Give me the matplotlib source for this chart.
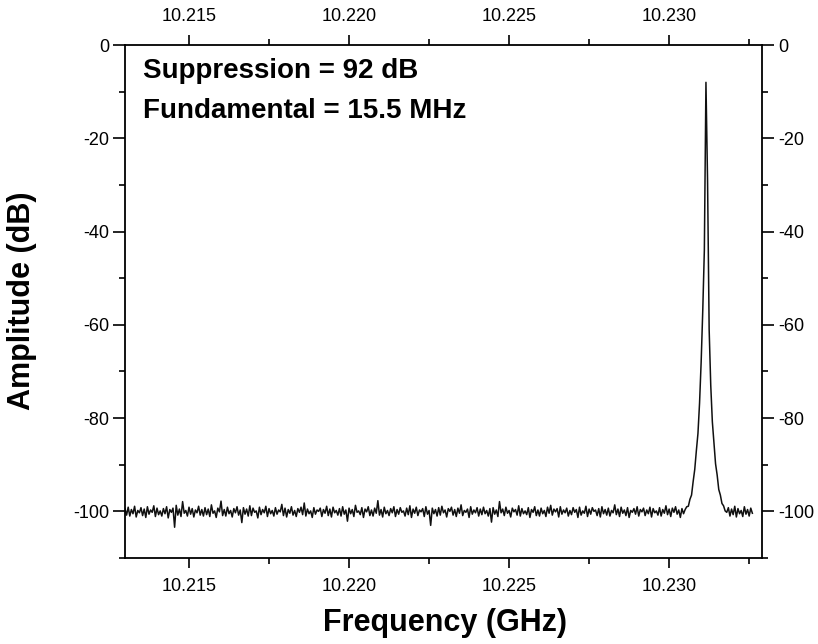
import numpy as np
import matplotlib
matplotlib.use("Agg")
import matplotlib.pyplot as plt
from matplotlib.ticker import MultipleLocator, FormatStrFormatter

plt.rcParams["font.family"] = ["Liberation Sans", "DejaVu Sans"]
plt.rcParams["axes.unicode_minus"] = False

# sweep grid (GHz)
f_start = 10.2130
f_step = 0.00005

# noise floor left of the carrier (dB)
floor_left = [
    -99.4, -100.8, -99.1, -101.0, -99.6, -100.5, -98.9, -101.2, -99.8, -100.3, -99.2, -100.9, -99.5, -101.3, -99.0, -100.6, -99.7, -100.2, -98.8, -101.1, -99.3, -100.7, -99.9, -101.0, -99.4,
    -100.5, -99.0, -101.4, -99.6, -100.2, -99.3, -103.4, -98.7, -100.8, -99.5, -101.1, -97.9, -100.4, -99.8, -101.0, -99.1, -100.6, -99.4, -101.2, -99.7, -100.3, -98.9, -100.8, -99.6, -101.0,
    -99.2, -100.7, -99.5, -101.1, -98.6, -100.4, -99.9, -101.3, -99.3, -100.1, -97.8, -100.9, -99.6, -101.0, -99.1, -100.5, -99.8, -101.2, -99.4, -100.3, -99.0, -100.8, -99.7, -102.4, -99.2,
    -100.6, -99.5, -101.0, -98.8, -100.9, -99.3, -100.2, -99.9, -101.4, -99.1, -100.7, -99.6, -100.3, -98.9, -101.1, -99.4, -100.5, -99.8, -101.0, -99.2, -100.6, -99.7, -100.1, -98.5, -100.9,
    -99.3, -101.2, -99.6, -100.4, -99.0, -100.8, -99.8, -101.1, -99.4, -100.2, -99.1, -100.7, -98.2, -101.0, -99.5, -100.5, -99.9, -101.3, -99.2, -100.6, -99.7, -100.0, -99.3, -101.1, -99.6,
    -100.4, -98.9, -100.9, -99.5, -101.2, -99.1, -100.3, -99.8, -100.8, -99.4, -101.0, -99.0, -100.6, -99.7, -102.1, -99.3, -100.5, -99.6, -101.1, -98.7, -100.2, -99.9, -100.7, -99.2, -101.3,
    -99.5, -100.1, -99.0, -100.9, -99.7, -101.0, -99.3, -100.4, -97.7, -100.8, -99.6, -101.2, -99.1, -100.5, -99.8, -100.9, -99.4, -100.3, -99.0, -101.1, -99.6, -100.6, -99.2, -100.2, -99.9,
    -101.0, -99.3, -100.7, -98.8, -101.3, -99.5, -100.4, -99.1, -100.9, -99.7, -100.1, -99.4, -101.1, -99.0, -100.6, -99.8, -103.0, -99.3, -100.5, -99.6, -101.0, -99.2, -100.8, -98.9, -100.3,
    -99.7, -101.2, -99.4, -100.0, -99.1, -100.8, -99.6, -101.1, -99.3, -100.4, -98.6, -100.9, -99.8, -100.2, -99.5, -101.3, -99.0, -100.6, -99.7, -100.3, -99.2, -101.0, -99.5, -100.7, -99.1,
    -100.5, -99.8, -101.0, -99.4, -102.3, -99.2, -100.6, -99.7, -101.1, -97.9, -100.3, -99.5, -100.9, -99.1, -100.4, -99.8, -101.2, -99.3, -100.1, -99.6, -100.8, -98.8, -101.0, -99.4, -100.5,
    -99.9, -100.7, -99.2, -101.3, -99.6, -100.2, -99.0, -100.9, -99.7, -101.0, -99.3, -100.5, -99.8, -101.1, -99.1, -100.4, -98.7, -100.8, -99.5, -100.1, -99.4, -101.2, -99.0, -100.6, -99.7,
    -100.3, -99.3, -101.0, -99.8, -100.7, -99.2, -100.2, -99.6, -101.3, -99.1, -100.8, -99.9, -100.4, -98.9, -101.1, -99.5, -100.6, -99.2, -100.0, -99.7, -100.9, -99.4, -101.2, -99.0, -100.5,
    -99.6, -100.8, -99.3, -101.0, -99.8, -100.3, -98.6, -100.7, -99.5, -101.1, -99.1, -100.4, -99.7, -100.9, -99.2, -101.3, -99.8, -100.2, -99.4, -100.6, -99.0, -101.0, -99.6, -100.1, -99.3,
    -100.9, -99.7, -100.5, -99.1, -101.2, -99.4, -100.3, -99.9, -100.8, -99.2, -101.0, -99.6, -100.4, -98.8, -100.7, -99.5, -101.1, -99.3, -100.2, -99.0, -100.6, -99.7, -101.3, -99.4, -100.5,
]

# carrier at ~10.23115 GHz (dB)
peak_amp = [
    -99.6, -99.0, -98.9, -97.4, -96.5, -93.6, -91.0, -87.0, -83.3, -76.8, -68.0, -57.0, -44.0,
    -8.0,
    -29.0, -61.0, -73.0, -80.8, -85.2, -89.8, -92.2, -95.3, -96.5, -98.3, -98.8, -99.9, -100.2,
]

# noise floor right of the carrier (dB)
floor_right = [
    -99.2, -101.0, -99.5, -100.7, -98.9, -101.2, -99.4, -100.5,
    -99.8, -101.1, -99.0, -100.6, -99.6, -101.0, -99.3, -100.4,
]

amp = np.array(floor_left + peak_amp + floor_right)
freq = f_start + f_step * np.arange(len(amp))

fig = plt.figure(figsize=(8.18, 6.44), dpi=100)
ax = fig.add_axes([0.1528, 0.1335, 0.7787, 0.7966])

ax.plot(freq, amp, color="#101010", lw=1.1)

ax.set_xlim(10.2130, 10.2329)
ax.set_ylim(-110, 0)

ax.xaxis.set_major_locator(MultipleLocator(0.005))
ax.xaxis.set_minor_locator(MultipleLocator(0.0025))
ax.xaxis.set_major_formatter(FormatStrFormatter("%.3f"))
ax.yaxis.set_major_locator(MultipleLocator(20))
ax.yaxis.set_minor_locator(MultipleLocator(10))

for s in ax.spines.values():
    s.set_linewidth(1.3)

ax.tick_params(axis="both", which="both", direction="out", top=True, right=True,
               labeltop=True, labelright=True, width=1.2, labelsize=13)
ax.tick_params(axis="x", which="major", length=7.5, pad=7)
ax.tick_params(axis="x", which="minor", length=4)
ax.tick_params(axis="y", which="major", length=8.5, pad=3)
ax.tick_params(axis="y", which="minor", length=4)

fig.text(143 / 818, 1 - 78 / 644, "Suppression = 92 dB", fontsize=20,
         fontweight="bold", va="baseline", ha="left")
fig.text(143 / 818, 1 - 118 / 644, "Fundamental = 15.5 MHz", fontsize=20,
         fontweight="bold", va="baseline", ha="left")

fig.text(445 / 818, 1 - 631 / 644, "Frequency (GHz)", fontsize=22,
         fontweight="bold", va="baseline", ha="center")
fig.text(22 / 818, 1 - 301 / 644, "Amplitude (dB)", fontsize=22,
         fontweight="bold", va="center", ha="center", rotation=90)

fig.savefig("out.png", dpi=100)
